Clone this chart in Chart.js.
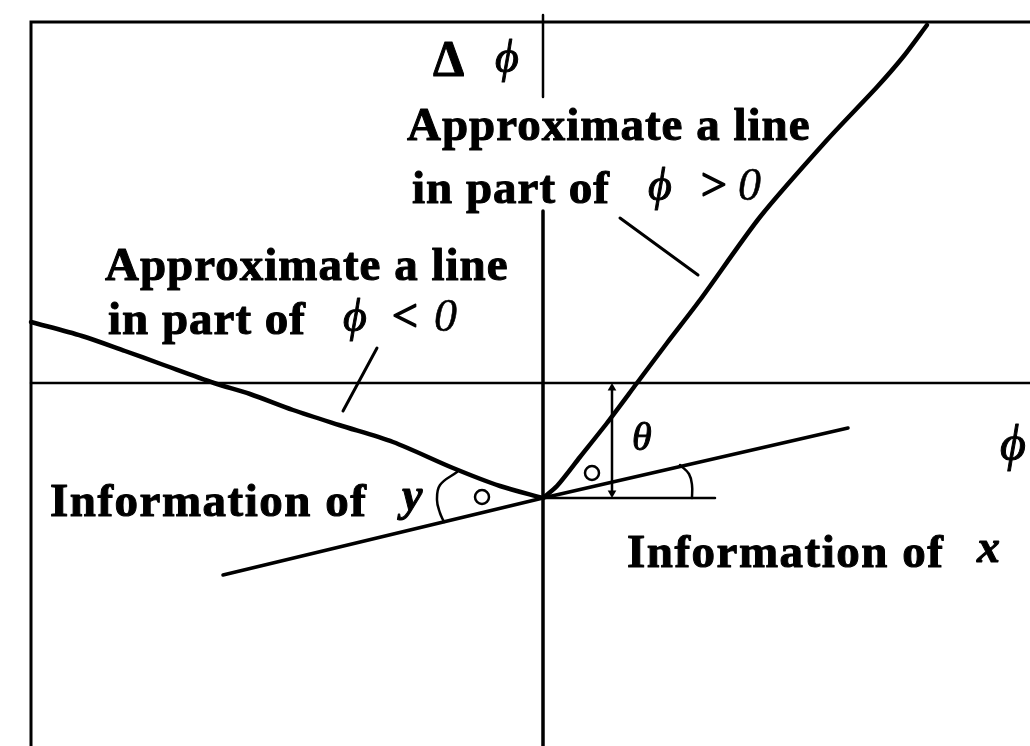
<!DOCTYPE html>
<html>
<head>
<meta charset="utf-8">
<script src="https://cdn.jsdelivr.net/npm/chart.js@4/dist/chart.umd.min.js"></script>
<style>
  html, body { margin: 0; padding: 0; background: #fff; }
  #diagram { display: block; }
</style>
</head>
<body>
<canvas id="diagram" width="1030" height="746"></canvas>
<script>
// phase plane: x = phi, y = delta phi (1 unit = 100 px)
const leftCurveX  = [-5.12, -4.61, -4.18, -3.82, -3.29, -2.93, -2.50, -2.04, -1.50, -0.90, -0.43, 0];
const leftCurveY  = [0.61, 0.47, 0.32, 0.19, 0, -0.11, -0.27, -0.42, -0.59, -0.85, -1.03, -1.15];
const rightCurveX = [0, 0.14, 0.37, 0.64, 0.94, 1.24, 1.57, 2.17, 2.84, 3.34, 3.60, 3.84];
const rightCurveY = [-1.15, -1.03, -0.74, -0.40, 0, 0.40, 0.83, 1.66, 2.43, 2.96, 3.26, 3.58];

// straight line through the meeting point (information of x / y)
const infoLineX = [-3.20, 0, 3.05];
const infoLineY = [-1.92, -1.15, -0.45];
const baseLineX = [0, 1.72];
const baseLineY = [-1.15, -1.15];
const thetaX = [0.69, 0.69];
const thetaY = [-0.05, -1.10];

// angle arcs
const arcRightX = [1.37, 1.46, 1.49, 1.49];
const arcRightY = [-0.82, -0.91, -1.02, -1.15];
const arcLeftX = [-0.86, -1.03, -1.06, -1.03, -0.99];
const arcLeftY = [-0.89, -1.02, -1.17, -1.30, -1.39];

// leader lines
const leaderNegX = [-2.00, -1.66];
const leaderNegY = [-0.28, 0.35];
const leaderPosX = [0.77, 1.55];
const leaderPosY = [1.65, 1.08];

// frame and axes
const frameX = [-5.12, -5.12, 4.87];
const frameY = [-3.63, 3.61, 3.61];
const hAxisX = [-5.12, 4.87];
const hAxisY = [0, 0];
const vAxisTopY = [3.68, 2.86];
const vAxisBottomY = [1.72, -3.63];

// angle marks
const markX = [-0.61, 0.49];
const markY = [-1.14, -0.90];

const BOLD = 'bold 47px "Liberation Serif", "Times New Roman", serif';
const ITAL = 'italic 46px "Liberation Serif", "DejaVu Serif", serif';
const labels = [
    { text: '\u0394', x: -1.10, y: 3.08, font: 'bold 50px "Liberation Serif", serif', weight: 1 },
    { text: '\u03d5', x: -0.48, y: 3.11, font: ITAL, weight: 1 },
    { text: 'Approximate a line', x: -1.36, y: 2.43, font: BOLD, spacing: 1, weight: 1 },
    { text: 'in part of', x: -1.31, y: 1.80, font: BOLD, spacing: 1, weight: 1 },
    { text: '\u03d5', x: 1.05, y: 1.83, font: ITAL, weight: 1 },
    { text: '>', x: 1.55, y: 1.83, font: ITAL, weight: 1.5 },
    { text: '0', x: 1.95, y: 1.83, font: ITAL, weight: 0.5 },
    { text: 'Approximate a line', x: -4.38, y: 1.03, font: BOLD, spacing: 1, weight: 1 },
    { text: 'in part of', x: -4.35, y: 0.49, font: BOLD, spacing: 1, weight: 1 },
    { text: '\u03d5', x: -2.00, y: 0.52, font: ITAL, weight: 1 },
    { text: '<', x: -1.54, y: 0.52, font: ITAL, weight: 1.5 },
    { text: '0', x: -1.09, y: 0.52, font: ITAL, weight: 0.5 },
    { text: 'Information of', x: -4.93, y: -1.33, font: BOLD, spacing: 1.5, weight: 1 },
    { text: 'y', x: -1.41, y: -1.27, font: 'bold ' + ITAL, weight: 1 },
    { text: '\u03b8', x: 0.89, y: -0.67, font: 'italic 40px "Liberation Serif", serif', weight: 1 },
    { text: '\u03d5', x: 4.57, y: -0.77, font: 'italic 50px "Liberation Serif", "DejaVu Serif", serif', weight: 1 },
    { text: 'Information of', x: 0.84, y: -1.84, font: BOLD, spacing: 1.5, weight: 1 },
    { text: 'x', x: 4.34, y: -1.79, font: 'bold ' + ITAL, weight: 1 }
];

function pts(xs, ys) {
    return xs.map(function (x, i) { return { x: x, y: ys[i] }; });
}

function line(xs, ys, width, extra) {
    return Object.assign({
        data: pts(xs, ys),
        borderColor: '#000',
        borderWidth: width,
        pointRadius: 0,
        showLine: true,
        fill: false,
        tension: 0
    }, extra || {});
}

const whiteBackground = {
    id: 'whiteBackground',
    beforeDraw: function (chart) {
        const ctx = chart.ctx;
        ctx.save();
        ctx.fillStyle = '#fff';
        ctx.fillRect(0, 0, chart.width, chart.height);
        ctx.restore();
    }
};

// the scanned lettering is heavier than the font, so stroke it a little
const textLabels = {
    id: 'textLabels',
    afterDatasetsDraw: function (chart) {
        const ctx = chart.ctx;
        const xs = chart.scales.x, ys = chart.scales.y;
        ctx.save();
        ctx.fillStyle = '#000';
        ctx.strokeStyle = '#000';
        ctx.lineJoin = 'round';
        ctx.textBaseline = 'alphabetic';
        ctx.textAlign = 'left';
        labels.forEach(function (lb) {
            const px = xs.getPixelForValue(lb.x);
            const py = ys.getPixelForValue(lb.y);
            ctx.font = lb.font;
            ctx.letterSpacing = (lb.spacing || 0) + 'px';
            ctx.fillText(lb.text, px, py);
            if (lb.weight) {
                ctx.lineWidth = lb.weight;
                ctx.strokeText(lb.text, px, py);
            }
        });
        ctx.restore();
    }
};

const ctx = document.getElementById('diagram').getContext('2d');
new Chart(ctx, {
    type: 'scatter',
    data: {
        datasets: [
            line(frameX, frameY, 3),
            line(hAxisX, hAxisY, 2.5),
            line([0, 0], vAxisTopY, 2.5),
            line([0, 0], vAxisBottomY, 3.5),
            line(leftCurveX, leftCurveY, 4.5, { tension: 0.3 }),
            line(rightCurveX, rightCurveY, 4.5, { tension: 0.25 }),
            line(infoLineX, infoLineY, 3.5),
            line(baseLineX, baseLineY, 2.5),
            line(thetaX, thetaY, 2.5, {
                pointRadius: 5,
                pointStyle: 'triangle',
                pointRotation: [0, 180],
                pointBackgroundColor: '#000',
                pointBorderWidth: 0
            }),
            line(arcRightX, arcRightY, 2.5, { tension: 0.4 }),
            line(arcLeftX, arcLeftY, 2.5, { tension: 0.4 }),
            line(leaderNegX, leaderNegY, 3),
            line(leaderPosX, leaderPosY, 3),
            {
                data: pts(markX, markY),
                showLine: false,
                pointStyle: 'circle',
                pointRadius: 7,
                pointBorderWidth: 2.5,
                pointBorderColor: '#000',
                pointBackgroundColor: '#fff'
            },
            {
                data: pts(markX, markY),
                showLine: false,
                pointRadius: 1.5,
                pointBorderWidth: 0,
                pointBackgroundColor: '#000'
            }
        ]
    },
    options: {
        responsive: false,
        animation: false,
        layout: { padding: 0, autoPadding: false },
        plugins: {
            legend: { display: false },
            tooltip: { enabled: false }
        },
        scales: {
            x: { type: 'linear', min: -5.43, max: 4.87, display: false },
            y: { type: 'linear', min: -3.63, max: 3.83, display: false }
        },
        elements: { line: { borderCapStyle: 'round' } }
    },
    plugins: [whiteBackground, textLabels]
});
</script>
</body>
</html>
